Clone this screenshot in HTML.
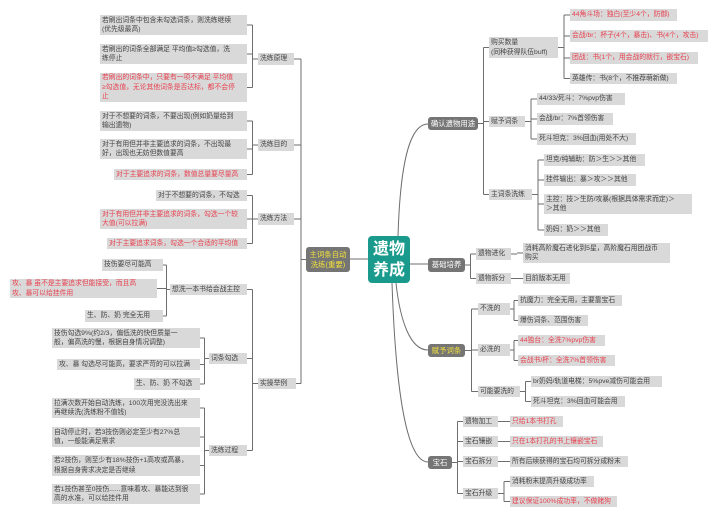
<!DOCTYPE html>
<html><head><meta charset="utf-8">
<style>
html,body{margin:0;padding:0;background:#fff;}
#c{position:relative;width:720px;height:520px;overflow:hidden;font-family:"Liberation Sans","Noto Sans CJK SC",sans-serif;}
.b{position:absolute;background:#d9d9d9;color:#444;font-size:6.8px;line-height:9.4px;padding:0 2px;box-sizing:border-box;display:flex;align-items:center;white-space:normal;overflow:visible;}
.n{white-space:nowrap;}
.r{color:#e8414f;}
.d{background:#757575;color:#fff;border-radius:3px;font-size:7.4px;justify-content:center;white-space:nowrap;}
.y{color:#f3e13c;text-align:center;}
svg{position:absolute;left:0;top:0;}
</style></head><body>
<div id="c">
<svg width="720" height="520" id="s"></svg>
<div class="b" style="left:368px;top:236px;width:42px;height:47px;background:#1a9a8c;color:#fff;font-size:16px;line-height:21px;font-weight:bold;border-radius:4px;justify-content:center;text-align:center;">遗物<br>养成</div>
</div>
<script>
var c=document.getElementById('c'),s=document.getElementById('s');
var B={};
function bx(id,x1,y1,x2,y2,t,cl){var d=document.createElement('div');d.className='b '+(cl||'')+((y2-y1)<=14?' n':'');d.style.left=x1+'px';d.style.top=y1+'px';d.style.width=(x2-x1)+'px';d.style.height=(y2-y1)+'px';d.innerHTML=t;c.appendChild(d);B[id]=[x1,y1,x2,y2];}
var P='';
function grp(p,ch,side){var a=B[p],py=(a[1]+a[3])/2,bxp,mn=1e9,mx=-1e9;
 if(side<0){var cr=0;ch.forEach(function(k){cr=Math.max(cr,B[k][2]);});bxp=(cr+a[0])/2;P+='M'+a[0]+' '+py+'H'+bxp;
  ch.forEach(function(k){var q=B[k],cy=(q[1]+q[3])/2;mn=Math.min(mn,cy);mx=Math.max(mx,cy);P+='M'+q[2]+' '+cy+'H'+bxp;});}
 else{var cl=1e9;ch.forEach(function(k){cl=Math.min(cl,B[k][0]);});bxp=(cl+a[2])/2;P+='M'+a[2]+' '+py+'H'+bxp;
  ch.forEach(function(k){var q=B[k],cy=(q[1]+q[3])/2;mn=Math.min(mn,cy);mx=Math.max(mx,cy);P+='M'+bxp+' '+cy+'H'+q[0];});}
 if(ch.length>1)P+='M'+bxp+' '+mn+'V'+mx;}
// left
bx('M',306,247,350,272,'主词条自动<br>洗练(重要)','d y');
bx('a',258,53,294,65,'洗练原理');bx('b',258,139,294,151,'洗练目的');bx('cc',258,213,294,225,'洗练方法');bx('e',258,378,296,389,'实操举例');
bx('a1',100,15,247,35,'若刷出词条中包含未勾选词条，则洗练继续<br>(优先级最高)');
bx('a2',100,44,247,64,'若刷出的词条全部满足 平均值≥勾选值，洗<br>练停止');
bx('a3',100,73,247,102,'若刷出的词条中，只要有一项不满足 平均值<br>≥勾选值，无论其他词条是否达标，都不会停<br>止','r');
bx('b1',100,111,247,131,'对于不想要的词条，不要出现(例如奶量给到<br>输出遗物)');
bx('b2',100,139,247,159,'对于有用但并非主要追求的词条，不出现最<br>好，出现也无妨但数值要高');
bx('b3',114,169,247,180,'对于主要追求的词条，数值总量要尽量高','r');
bx('c1',156,190,247,201,'对于不想要的词条，不勾选');
bx('c2',100,209,247,229,'对于有用但并非主要追求的词条，勾选一个较<br>大值(可以拉满)','r');
bx('c3',107,238,247,249,'对于主要追求词条，勾选一个合适的平均值','r');
bx('e1',170,284,247,295,'想洗一本书给会战主控');bx('e2',209,353,247,364,'词条勾选');bx('e3',209,445,247,456,'洗练过程');
bx('f1',102,259,163,271,'技伤要尽可能高');
bx('f2',10,279,157,298,'攻、暴 虽不是主要追求但能接受，而且高<br>攻、暴可以给挂件用','r');
bx('f3',85,310,163,322,'生、防、奶 完全无用');
bx('g1',52,328,200,348,'技伤勾选9%(约2/3，偏低洗的快但质量一<br>般，偏高洗的慢，根据自身情况调整)');
bx('g2',57,359,200,370,'攻、暴 勾选尽可能高，要求严苛的可以拉满');
bx('g3',134,378,200,390,'生、防、奶 不勾选');
bx('h1',52,398,200,418,'拉满次数开始自动洗练，100次用完没洗出来<br>再继续洗(洗练粉不值钱)');
bx('h2',52,427,200,447,'自动停止时，若3技伤则必定至少有27%总<br>值，一般能满足需求');
bx('h3',52,455,200,476,'若2技伤，则至少有18%技伤+1高攻或高暴，<br>根据自身需求决定是否继续');
bx('h4',52,484,200,504,'若1技伤甚至0技伤......意味着攻、暴能达到很<br>高的水准，可以给挂件用');
grp('M',['a','b','cc','e'],-1);grp('a',['a1','a2','a3'],-1);grp('b',['b1','b2','b3'],-1);grp('cc',['c1','c2','c3'],-1);
grp('e',['e1','e2','e3'],-1);grp('e1',['f1','f2','f3'],-1);grp('e2',['g1','g2','g3'],-1);grp('e3',['h1','h2','h3','h4'],-1);
// right
bx('R1',428,117,478,130,'确认遗物用途','d');
bx('p',489,37,558,58,'购买数量<br>(同种获得队伍buff)');bx('q',489,116,525,127,'赋予词条');bx('t',489,189,532,200,'主词条洗练');
bx('p1',570,9,677,21,'44角斗场：独白(至少4个，防御)','r');
bx('p2',570,30,708,42,'会战/br：杯子(4个，暴击)、书(4个，攻击)','r');
bx('p3',570,52,698,64,'团战：书(1个，用会战的就行，嵌宝石)','r');
bx('p4',570,73,677,84,'英雄传：书(8个，不推荐萌新做)');
bx('q1',537,93,625,105,'44/33/死斗：7%pvp伤害');bx('q2',537,113,613,125,'会战/br：7%首领伤害');bx('q3',537,133,636,145,'死斗坦克：3%回血(用处不大)');
bx('t1',544,154,645,166,'坦克/纯辅助：防＞生＞＞其他');bx('t2',544,174,636,186,'挂件输出：暴＞攻＞＞其他');
bx('t3',544,194,692,214,'主控：技＞生防/攻暴(根据具体需求而定)＞<br>＞其他');bx('t4',544,224,608,236,'奶妈：奶＞＞其他');
grp('R1',['p','q','t'],1);grp('p',['p1','p2','p3','p4'],1);grp('q',['q1','q2','q3'],1);grp('t',['t1','t2','t3','t4'],1);
bx('R2',428,258,465,272,'基础培养','d');
bx('u',476,248,511,260,'遗物进化');bx('v',476,273,511,284,'遗物拆分');
bx('u1',523,243,670,263,'消耗高阶魔石进化到5星，高阶魔石用团战币<br>购买');bx('v1',523,273,570,284,'目前版本无用');
grp('R2',['u','v'],1);grp('u',['u1'],1);grp('v',['v1'],1);
bx('R3',428,344,465,357,'赋予词条','d y');
bx('w',478,303,510,315,'不洗的');bx('x',478,344,510,356,'必洗的');bx('z',478,386,520,397,'可能要洗的');
bx('w1',518,295,622,306,'抗魔力：完全无用，主要靠宝石');bx('w2',518,315,588,326,'爆伤词条、范围伤害');
bx('x1',518,335,605,346,'44独台：全洗7%pvp伤害','r');bx('x2',518,355,615,366,'会战书/杯：全洗7%首领伤害','r');
bx('z1',531,376,662,387,'br奶妈/轨道电梯：5%pve减伤可能会用');bx('z2',531,396,625,407,'死斗坦克：3%回血可能会用');
grp('R3',['w','x','z'],1);grp('w',['w1','w2'],1);grp('x',['x1','x2'],1);grp('z',['z1','z2'],1);
bx('R4',428,456,452,469,'宝石','d');
bx('k1',463,416,498,427,'遗物加工');bx('k2',463,436,498,447,'宝石镶嵌');bx('k3',463,456,498,467,'宝石拆分');bx('k4',463,488,498,499,'宝石升级');
bx('m1',510,416,563,427,'只给1本书打孔','r');bx('m2',510,436,603,447,'只在1本打孔的书上镶嵌宝石','r');
bx('m3',510,456,628,467,'所有后续获得的宝石均可拆分成粉末');
bx('m4',510,476,594,487,'消耗粉末提高升级成功率');bx('m5',510,496,617,507,'建议保证100%成功率，不做赌狗','r');
grp('R4',['k1','k2','k3','k4'],1);grp('k1',['m1'],1);grp('k2',['m2'],1);grp('k3',['m3'],1);grp('k4',['m4','m5'],1);
P+='M350 259H368M410 264H428';
P+='M398 236C400 170,408 124,428 124';
P+='M396 283C400 320,410 350,428 350';
P+='M392 283C396 400,408 462,428 462';
s.innerHTML='<path d="'+P+'" fill="none" stroke="#6e6e6e" stroke-width="1"/>';
</script>
</body></html>
